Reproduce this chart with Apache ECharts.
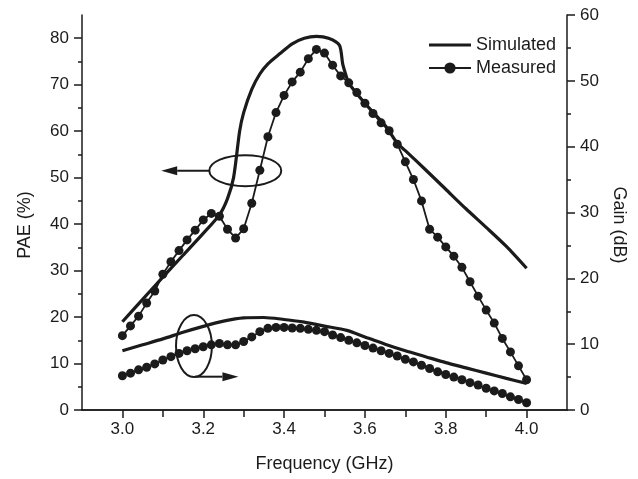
<!DOCTYPE html>
<html>
<head>
<meta charset="utf-8">
<script src="https://cdn.jsdelivr.net/npm/echarts@6/dist/echarts.min.js"></script>
<style>html,body{margin:0;padding:0;background:#fff}#c{width:638px;height:479px}</style>
</head>
<body>
<div id="c"></div>
<script>
// ---- data ----
var measFreq = [3.00,3.02,3.04,3.06,3.08,3.10,3.12,3.14,3.16,3.18,3.20,3.22,3.24,3.26,3.28,3.30,3.32,3.34,3.36,3.38,3.40,3.42,3.44,3.46,3.48,3.50,3.52,3.54,3.56,3.58,3.60,3.62,3.64,3.66,3.68,3.70,3.72,3.74,3.76,3.78,3.80,3.82,3.84,3.86,3.88,3.90,3.92,3.94,3.96,3.98,4.00];
var measPAE = [16.0,18.1,20.2,23.0,25.6,29.2,31.9,34.3,36.6,38.7,40.9,42.3,41.7,38.9,37.0,39.0,44.5,51.6,58.8,64.0,67.7,70.6,72.7,75.6,77.6,76.8,74.2,71.9,70.4,68.3,66.0,63.8,61.8,60.1,57.2,53.4,49.6,45.0,38.9,37.2,35.1,33.1,30.7,27.6,24.5,21.5,18.7,15.4,12.5,9.5,6.5];
var measGain = [5.2,5.6,6.1,6.5,7.0,7.6,8.1,8.6,9.0,9.3,9.6,9.9,10.1,9.9,9.9,10.4,11.1,11.9,12.4,12.55,12.55,12.45,12.4,12.25,12.1,11.9,11.4,11.0,10.6,10.2,9.8,9.4,9.0,8.6,8.2,7.7,7.3,6.8,6.3,5.8,5.4,5.0,4.6,4.15,3.8,3.3,2.9,2.5,2.0,1.6,1.1];

var simPAEFreq = [3.00,3.05,3.10,3.15,3.20,3.24,3.26,3.275,3.29,3.30,3.32,3.34,3.36,3.39,3.42,3.45,3.48,3.51,3.537,3.545,3.555,3.56,3.60,3.65,3.68,3.70,3.75,3.80,3.85,3.90,3.95,4.00];
var simPAE = [19.0,23.8,28.6,33.3,38.0,42.0,45.5,50.0,60.0,64.0,69.0,72.3,74.5,76.7,78.8,80.0,80.4,80.0,78.5,74.5,71.5,70.3,66.0,61.2,57.4,55.8,51.7,47.5,43.3,39.3,35.2,30.5];

var simGainFreq = [3.00,3.05,3.10,3.15,3.20,3.25,3.30,3.35,3.40,3.45,3.50,3.555,3.60,3.65,3.70,3.75,3.80,3.85,3.90,3.95,4.00];
var simGain = [9.0,9.9,10.8,11.8,12.7,13.5,14.0,14.05,13.75,13.35,12.75,12.1,11.1,10.0,9.0,8.1,7.2,6.4,5.6,4.8,4.05];

var xTickLabels = [3.0,3.2,3.4,3.6,3.8,4.0];
var xMinorTicks = [3.1,3.3,3.5,3.7,3.9];
var xTopTicks = [3.0,3.1,3.2,3.3,3.4,3.5,3.6,3.7,3.8,3.9,4.0];
var paeTickLabels = [0,10,20,30,40,50,60,70,80];
var paeMinorTicks = [5,15,25,35,45,55,65,75];
var legendNames = ['Simulated','Measured'];

// annotations (data coordinates)
var paeEllipse = {c:[3.304,51.5], rx:0.089, ry:3.34, arrowFrom:[3.215,51.5], arrowTo:[3.096,51.5]};
var gainEllipse = {c:[3.177,9.72], rx:0.0444, ry:4.7, arrowFrom:[3.18,5.06], arrowTo:[3.287,5.06]};

function zip(a,b){return a.map(function(v,i){return [v,b[i]];});}

var INK = '#1b1b1b';
var FONT = '"Liberation Sans", Arial, Helvetica, sans-serif';
var chart = echarts.init(document.getElementById('c'), null, {renderer:'canvas'});

var baseX = {type:'value', min:2.9, max:4.1, interval:0.1, splitLine:{show:false}};
var option = {
  animation:false,
  backgroundColor:'#fff',
  textStyle:{fontFamily:FONT, color:INK},
  grid:{left:82, right:71, top:15, bottom:69, containLabel:false},
  legend:{
    data:[
      {name:legendNames[0], icon:'path://M0,0 L42,0 L42,3.2 L0,3.2 Z'},
      {name:legendNames[1]}
    ],
    orient:'vertical', left:423, top:31, itemWidth:42, itemHeight:14, itemGap:5,
    textStyle:{fontSize:18, color:INK, fontFamily:FONT}
  },
  xAxis:[
    Object.assign({}, baseX, {
      position:'bottom',
      axisLine:{lineStyle:{color:INK, width:1.5}},
      axisTick:{show:true, inside:false, length:8, lineStyle:{color:INK, width:1.5}, customValues:xTickLabels},
      axisLabel:{customValues:xTickLabels, fontSize:17, color:INK, margin:11, fontFamily:FONT,
        formatter:function(v){return v.toFixed(1);}},
      name:'Frequency (GHz)', nameLocation:'middle', nameGap:45,
      nameTextStyle:{fontSize:18, color:INK, fontFamily:FONT}
    }),
    Object.assign({}, baseX, {
      position:'bottom',
      axisLine:{show:false},
      axisTick:{show:true, inside:false, length:4, lineStyle:{color:INK, width:1.5}, customValues:xMinorTicks},
      axisLabel:{show:false}
    }),
    Object.assign({}, baseX, {
      position:'top',
      axisLine:{show:true, lineStyle:{color:INK, width:1.5}},
      axisTick:{show:true, inside:true, length:7, lineStyle:{color:INK, width:1.5}, customValues:xTopTicks},
      axisLabel:{show:false}
    })
  ],
  yAxis:[
    {
      type:'value', position:'left', min:0, max:85, interval:5, splitLine:{show:false},
      axisLine:{show:true, lineStyle:{color:INK, width:1.5}},
      axisTick:{show:true, inside:false, length:8, lineStyle:{color:INK, width:1.5}, customValues:paeTickLabels},
      axisLabel:{customValues:paeTickLabels, fontSize:17, color:INK, margin:13, fontFamily:FONT},
      name:'PAE (%)', nameLocation:'middle', nameGap:48,
      nameTextStyle:{fontSize:18, color:INK, fontFamily:FONT, padding:[0,25,0,0]}
    },
    {
      type:'value', position:'left', min:0, max:85, interval:5, splitLine:{show:false},
      axisLine:{show:false},
      axisTick:{show:true, inside:false, length:4, lineStyle:{color:INK, width:1.5}, customValues:paeMinorTicks},
      axisLabel:{show:false}
    },
    {
      type:'value', position:'right', min:0, max:60, interval:10, splitLine:{show:false},
      axisLine:{show:true, lineStyle:{color:INK, width:1.5}},
      axisTick:{show:true, inside:false, length:8, lineStyle:{color:INK, width:1.5}},
      minorTick:{show:true, splitNumber:2, length:4, lineStyle:{color:INK, width:1.5}},
      axisLabel:{fontSize:17, color:INK, margin:13, fontFamily:FONT},
      name:'Gain (dB)', nameLocation:'middle', nameGap:42, nameRotate:-90,
      nameTextStyle:{fontSize:18, color:INK, fontFamily:FONT, padding:[0,0,0,25]}
    }
  ],
  series:[
    {name:'Simulated', type:'line', xAxisIndex:0, yAxisIndex:0, data:zip(simPAEFreq, simPAE),
      showSymbol:false, symbol:'none', smooth:0.25, lineStyle:{color:INK, width:3.2}, itemStyle:{color:INK}, z:3},
    {name:'Measured', type:'line', xAxisIndex:0, yAxisIndex:0, data:zip(measFreq, measPAE),
      symbol:'circle', symbolSize:9, lineStyle:{color:INK, width:1.8}, itemStyle:{color:INK}, z:4},
    {name:'Simulated', type:'line', xAxisIndex:0, yAxisIndex:2, data:zip(simGainFreq, simGain),
      showSymbol:false, symbol:'none', smooth:0.25, lineStyle:{color:INK, width:3.2}, itemStyle:{color:INK}, z:3},
    {name:'Measured', type:'line', xAxisIndex:0, yAxisIndex:2, data:zip(measFreq, measGain),
      symbol:'circle', symbolSize:9, lineStyle:{color:INK, width:1.8}, itemStyle:{color:INK}, z:4}
  ]
};
chart.setOption(option);

function annot(a, yIdx, dir){
  var f = {xAxisIndex:0, yAxisIndex:yIdx};
  var c = chart.convertToPixel(f, a.c);
  var ex = chart.convertToPixel(f, [a.c[0]+a.rx, a.c[1]+a.ry]);
  var p0 = chart.convertToPixel(f, a.arrowFrom);
  var p1 = chart.convertToPixel(f, a.arrowTo);
  var headLen = 16, headHalf = 4.5;
  var base = p1[0] - dir*headLen;
  return [
    {type:'ellipse', shape:{cx:c[0], cy:c[1], rx:Math.abs(ex[0]-c[0]), ry:Math.abs(ex[1]-c[1])},
      style:{fill:null, stroke:INK, lineWidth:2}, z:10},
    {type:'line', shape:{x1:p0[0], y1:p0[1], x2:base, y2:p1[1]}, style:{stroke:INK, lineWidth:2}, z:10},
    {type:'polygon', shape:{points:[[p1[0],p1[1]],[base,p1[1]-headHalf],[base,p1[1]+headHalf]]},
      style:{fill:INK}, z:10}
  ];
}
chart.setOption({graphic:{elements: annot(paeEllipse,0,-1).concat(annot(gainEllipse,2,1))}});
</script>
</body>
</html>
